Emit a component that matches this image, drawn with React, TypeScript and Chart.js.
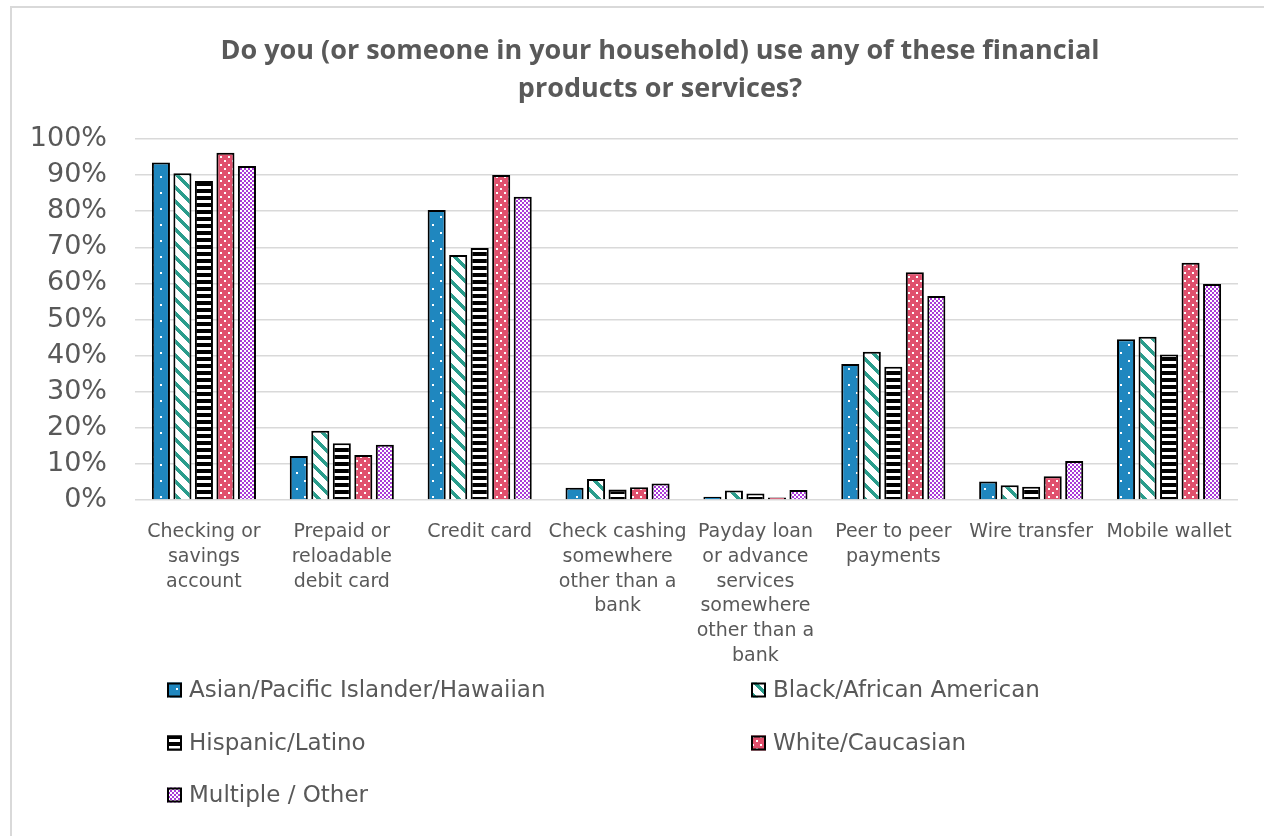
import React, { useEffect, useRef } from "react";
import { Chart, registerables } from "chart.js";

Chart.register(...registerables);

const titleLines = [
  "Do you (or someone in your household) use any of these financial",
  "products or services?",
];

const categories: (string | string[])[] = [
  ["Checking or", "savings", "account"],
  ["Prepaid or", "reloadable", "debit card"],
  "Credit card",
  ["Check cashing", "somewhere", "other than a", "bank"],
  ["Payday loan", "or advance", "services", "somewhere", "other than a", "bank"],
  ["Peer to peer", "payments"],
  "Wire transfer",
  "Mobile wallet",
];

const seriesNames = [
  "Asian/Pacific Islander/Hawaiian",
  "Black/African American",
  "Hispanic/Latino",
  "White/Caucasian",
  "Multiple / Other",
];

const asian = [93.5, 12.2, 80.3, 3.4, 0.9, 37.7, 5.1, 44.5];
const black = [90.5, 19.2, 67.9, 5.8, 2.6, 41.1, 4.1, 45.2];
const hispanic = [88.4, 15.7, 69.8, 2.9, 1.8, 36.9, 3.7, 40.3];
const white = [96.2, 12.5, 90.0, 3.5, 0.7, 63.1, 6.6, 65.7];
const multiple = [92.5, 15.3, 84.0, 4.6, 2.8, 56.5, 10.8, 59.8];

const yTicks = [0, 10, 20, 30, 40, 50, 60, 70, 80, 90, 100];

const TEXT = "#595959";
const GRID = "#D9D9D9";

function tile(w: number, h: number, paint: (c: CanvasRenderingContext2D) => void) {
  const c = document.createElement("canvas");
  c.width = w;
  c.height = h;
  const g = c.getContext("2d")!;
  paint(g);
  return c;
}

function makePatterns(ctx: CanvasRenderingContext2D) {
  const blue = tile(16, 16, (g) => {
    g.fillStyle = "#1F87BF";
    g.fillRect(0, 0, 16, 16);
    g.fillStyle = "#FFFFFF";
    g.fillRect(0, 0, 2, 2);
    g.fillRect(8, 8, 2, 2);
  });
  const teal = tile(14, 14, (g) => {
    g.fillStyle = "#FFFFFF";
    g.fillRect(0, 0, 14, 14);
    g.fillStyle = "#2A9D8C";
    for (let y = 0; y < 14; y++) {
      for (let x = 0; x < 14; x++) {
        const d = (((x - y) % 14) + 14) % 14;
        if (d < 5) g.fillRect(x, y, 1, 1);
      }
    }
  });
  const stripes = tile(8, 7, (g) => {
    g.fillStyle = "#FFFFFF";
    g.fillRect(0, 0, 8, 7);
    g.fillStyle = "#000000";
    g.fillRect(0, 0, 8, 4);
  });
  const red = tile(8, 8, (g) => {
    g.fillStyle = "#E0506D";
    g.fillRect(0, 0, 8, 8);
    g.fillStyle = "#FFFFFF";
    g.fillRect(0, 0, 2, 2);
    g.fillRect(4, 4, 2, 2);
  });
  const purple = tile(4, 4, (g) => {
    g.fillStyle = "#FFFFFF";
    g.fillRect(0, 0, 4, 4);
    g.fillStyle = "#A93AD8";
    g.fillRect(0, 0, 2, 2);
    g.fillRect(2, 2, 2, 2);
  });
  return [blue, teal, stripes, red, purple].map((t) => ctx.createPattern(t, "repeat")!);
}

export default function App() {
  const ref = useRef<HTMLCanvasElement | null>(null);

  useEffect(() => {
    const canvas = ref.current!;
    const ctx = canvas.getContext("2d")!;
    const patterns = makePatterns(ctx);
    const values = [asian, black, hispanic, white, multiple];

    const decor = {
      id: "decor",
      beforeDraw(chart: any) {
        const c = chart.ctx as CanvasRenderingContext2D;
        c.save();
        c.fillStyle = "#FFFFFF";
        c.fillRect(0, 0, chart.width, chart.height);
        c.strokeStyle = GRID;
        c.lineWidth = 2;
        c.beginPath();
        c.moveTo(11, chart.height + 5);
        c.lineTo(11, 7);
        c.lineTo(chart.width + 5, 7);
        c.stroke();
        c.restore();
      },
      afterDraw(chart: any) {
        const c = chart.ctx as CanvasRenderingContext2D;
        c.save();
        c.fillStyle = TEXT;
        c.font = 'bold 27px "Open Sans"';
        c.textAlign = "center";
        c.textBaseline = "middle";
        c.fillText(titleLines[0], 660, 51);
        c.fillText(titleLines[1], 660, 89);

        const rows = [690, 743, 795];
        const cols = [167, 751];
        c.font = '23px "DejaVu Sans"';
        c.textAlign = "left";
        chart.data.datasets.forEach((ds: any, i: number) => {
          const x = cols[i % 2];
          const y = rows[Math.floor(i / 2)];
          c.fillStyle = ds.backgroundColor;
          c.fillRect(x, y - 7.5, 15, 15);
          c.strokeStyle = "#000000";
          c.lineWidth = 2;
          c.strokeRect(x + 1, y - 6.5, 13, 13);
          c.fillStyle = TEXT;
          c.fillText(ds.label, x + 22, y + 1);
        });
        c.restore();
      },
    };

    const chart = new Chart(canvas, {
      type: "bar",
      data: {
        labels: categories,
        datasets: seriesNames.map((name, i) => ({
          label: name,
          data: values[i],
          backgroundColor: patterns[i] as any,
          borderColor: "#000000",
          borderWidth: 2,
          categoryPercentage: 0.78,
          barPercentage: 0.84,
        })),
      },
      options: {
        animation: false,
        responsive: false,
        devicePixelRatio: 1,
        layout: { padding: { top: 139, right: 26, bottom: 0, left: 0 } },
        plugins: {
          legend: { display: false },
          title: { display: false },
          tooltip: { enabled: false },
        },
        scales: {
          x: {
            grid: { display: false },
            border: { display: false },
            ticks: {
              color: TEXT,
              font: { family: "DejaVu Sans", size: 19, lineHeight: 1.3 },
              padding: 12,
              maxRotation: 0,
              minRotation: 0,
              autoSkip: false,
            },
            afterFit: (s: any) => {
              s.height = 336;
            },
          },
          y: {
            min: 0,
            max: 100,
            afterBuildTicks: (s: any) => {
              s.ticks = yTicks.map((v) => ({ value: v }));
            },
            ticks: {
              color: TEXT,
              font: { family: "DejaVu Sans", size: 27 },
              padding: 28,
              callback: (v: any) => v + "%",
            },
            grid: { color: GRID, lineWidth: 1.5, drawTicks: false },
            border: { display: false },
            afterFit: (s: any) => {
              s.width = 135;
            },
          },
        },
      },
      plugins: [decor],
    });

    return () => chart.destroy();
  }, []);

  return (
    <div style={{ position: "absolute", left: 0, top: 0, width: 1264, height: 836, background: "#fff" }}>
      <canvas ref={ref} width={1264} height={836} style={{ display: "block", width: 1264, height: 836 }} />
    </div>
  );
}
